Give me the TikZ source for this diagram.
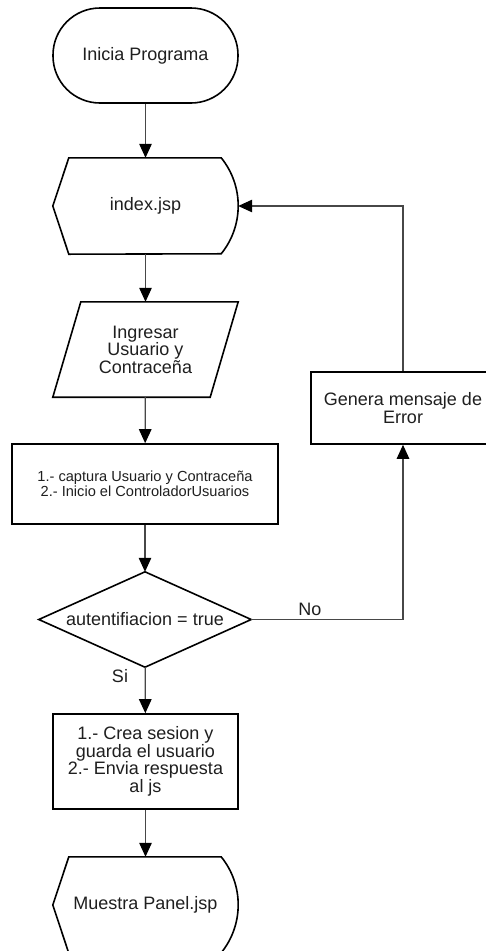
\documentclass[tikz,border=0pt]{standalone}
\usepackage{fontspec}
\setmainfont{Liberation Sans}
\usetikzlibrary{arrows.meta,calc}
\begin{document}
\begin{tikzpicture}[x=1pt,y=-1pt,
  outline/.style={draw=black, line width=1.6pt, line join=miter},
  box/.style={inner sep=0pt, align=center, text=black!88,
    font=\fontsize{18}{17.5}\selectfont},
  smallbox/.style={box, font=\fontsize{14.6}{15}\selectfont},
  link/.style={draw=black!72, line width=1.2pt,
    -{Triangle[length=14pt,width=12.5pt,black]}},
  lbl/.style={inner sep=0pt, text=black!88, font=\fontsize{18}{18}\selectfont}]
\clip (0,0) rectangle (486,951);
\fill[white] (0,0) rectangle (486,951);

% start terminal
\node[box, outline, rounded corners=47pt, minimum width=185pt, minimum height=95pt]
  (start) at (145.5,55.5) {Inicia Programa};

% display shape: index.jsp
\node[box, minimum width=185pt, minimum height=96pt] (idx) at (145.5,206) {index.jsp};
\draw[outline] (idx.west) -- ($(idx.north west)+(16,0)$) -- ($(idx.north east)+(-17,0)$)
  arc[start angle=39, end angle=-39, radius=76.26pt]
  -- ($(idx.south west)+(16,0)$) -- cycle;

% input parallelogram
\node[box, minimum width=185pt, minimum height=95pt] (inp) at (145.5,349.5)
  {Ingresar\\Usuario y\\Contraceña};
\draw[outline] ($(inp.north west)+(28,0)$) -- (inp.north east)
  -- ($(inp.south east)+(-28,0)$) -- (inp.south west) -- cycle;

% process: capture credentials
\node[smallbox, outline, minimum width=266pt, minimum height=80pt] (cap) at (145,484)
  {1.- captura Usuario y Contraceña\\2.- Inicio el ControladorUsuarios};

% decision
\node[box, minimum width=212pt, minimum height=95pt] (dec) at (145,619.5)
  {autentifiacion = true};
\draw[outline] (dec.west) -- (dec.north) -- (dec.east) -- (dec.south) -- cycle;

% process: session
\node[box, outline, minimum width=185pt, minimum height=95pt] (ses) at (145.5,761.5)
  {1.- Crea sesion y\\guarda el usuario\\2.- Envia respuesta\\al js};

% display shape: panel
\node[box, minimum width=185pt, minimum height=96pt] (pan) at (145.5,905) {Muestra Panel.jsp};
\draw[outline] (pan.west) -- ($(pan.north west)+(16,0)$) -- ($(pan.north east)+(-17,0)$)
  arc[start angle=39, end angle=-39, radius=76.26pt]
  -- ($(pan.south west)+(16,0)$) -- cycle;

% error process
\node[box, outline, minimum width=184pt, minimum height=72pt] (err) at (403,408)
  {Genera mensaje de\\Error};

% bends of the error loop
\coordinate (noturn) at (403,619.5);
\coordinate (backturn) at (403,206);

% connectors
\draw[link] (start) -- (idx);
\draw[link] (idx) -- (inp);
\draw[link] (inp) -- (cap);
\draw[link] (cap) -- (dec);
\draw[link] (dec) -- (ses);
\draw[link] (ses) -- (pan);
\draw[link] (dec.east) -- (noturn) -- (err.south);
\draw[link] (err.north) -- (backturn) -- (idx.east);

% branch labels
\node[lbl] (si) at (120,676) {Si};
\node[lbl] (no) at (310,609) {No};
\end{tikzpicture}
\end{document}
